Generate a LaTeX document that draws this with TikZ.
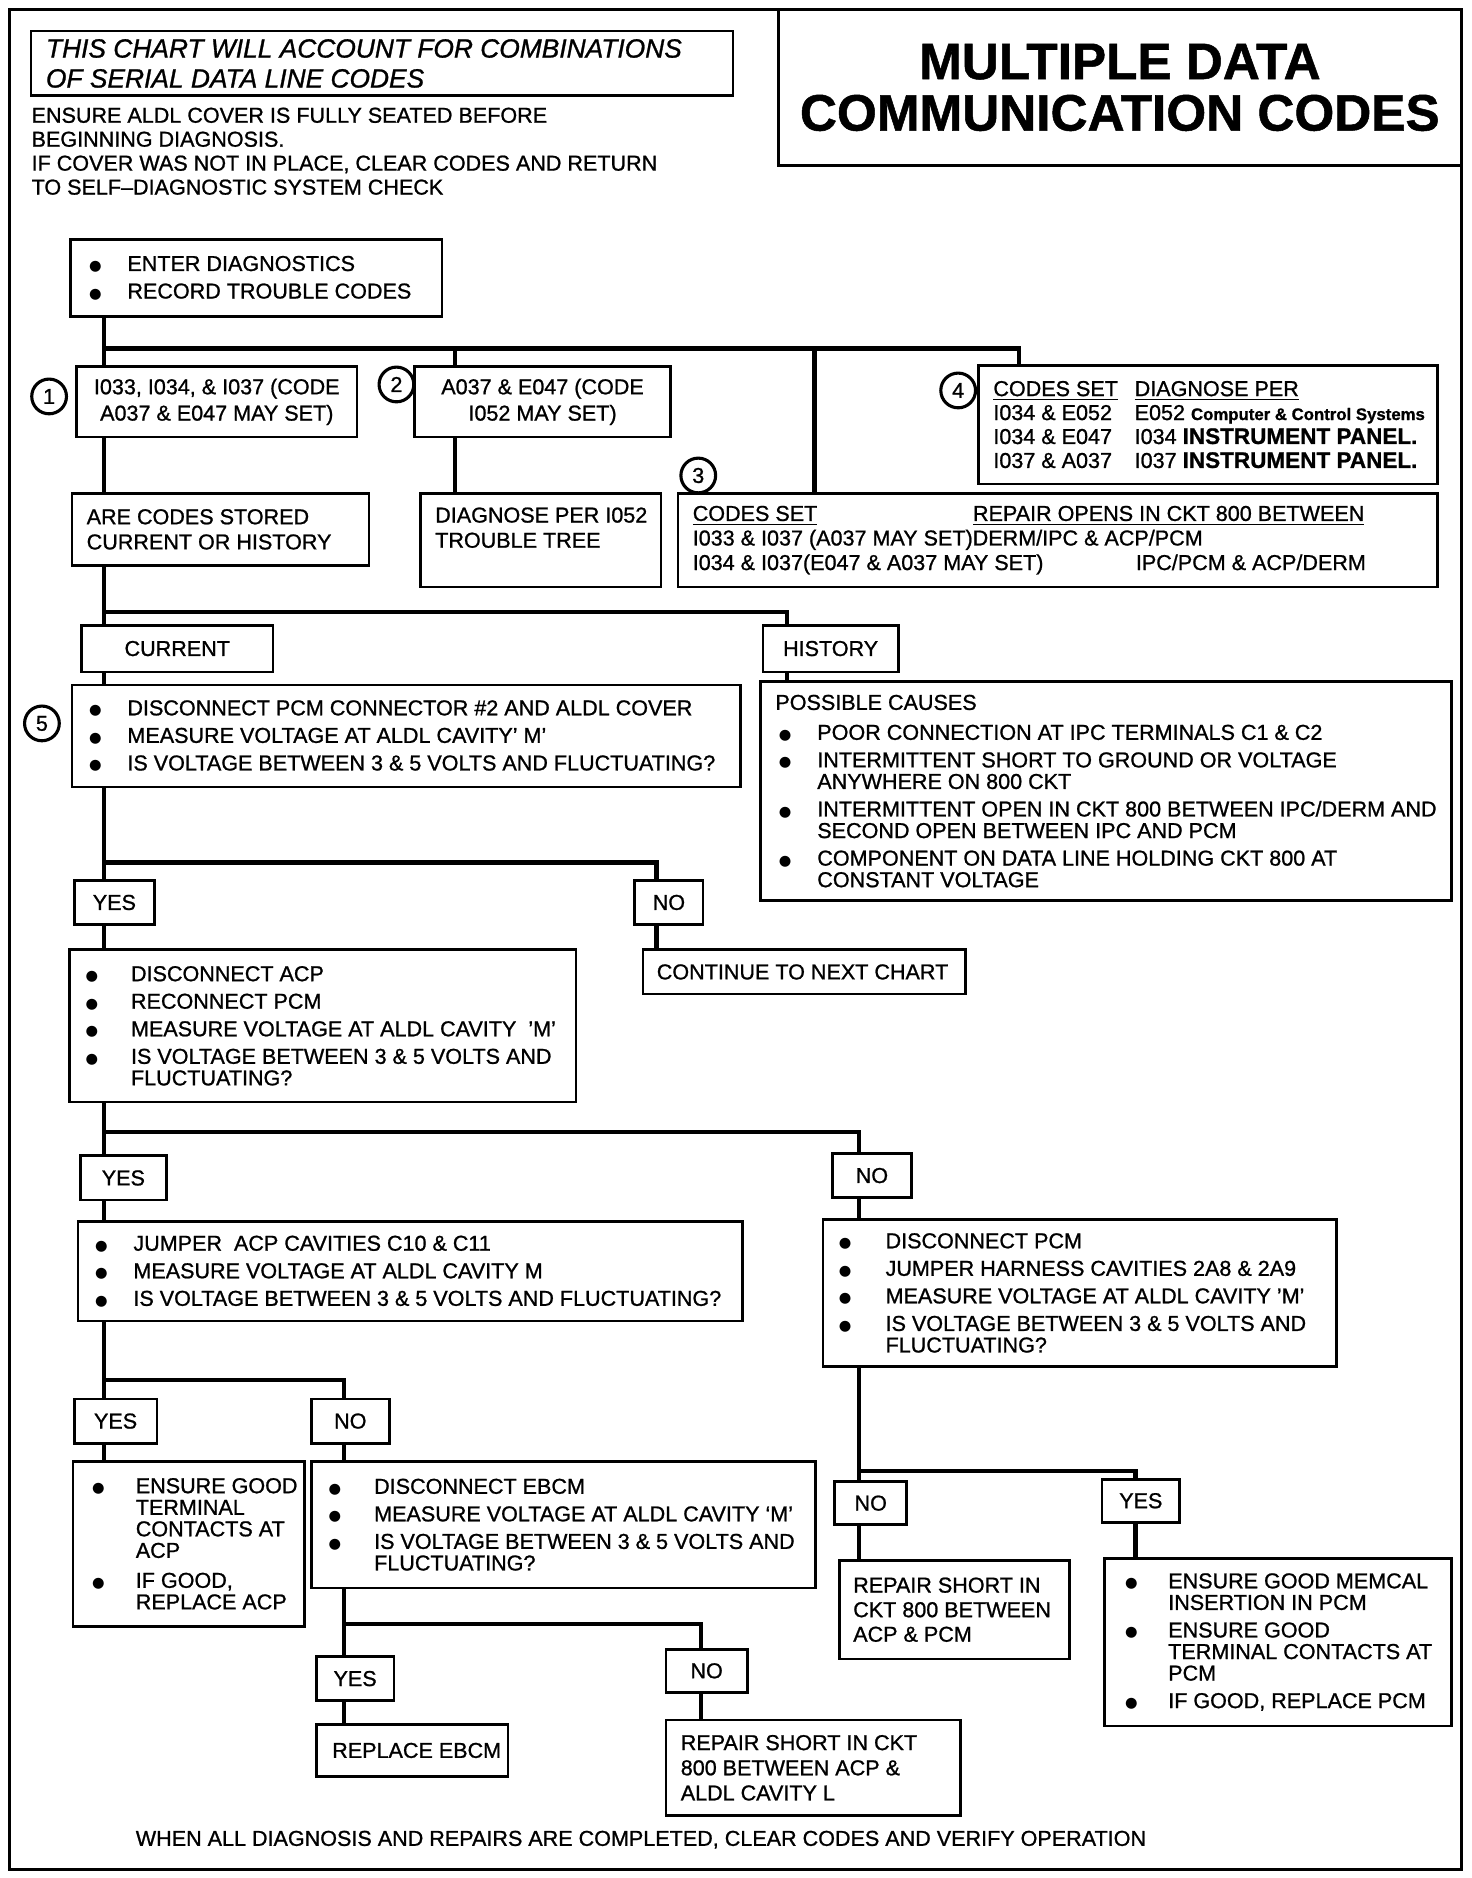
\documentclass[tikz,border=0pt]{standalone}
\usepackage{fontspec}
\setmainfont{Liberation Sans}[FakeBold=1.0]
\newfontfamily\symf{DejaVu Sans}
\newcommand\bl[1][16pt]{\makebox[#1][l]{\raisebox{0.2pt}{\fontsize{6}{6}\selectfont\symf ●}}}
\newcommand\ind[1][16pt]{\hspace*{#1}}
\newcommand\bx[8][]{%
  \pgfmathsetmacro\bxw{(#5-#3)*0.5}%
  \pgfmathsetmacro\bxh{(#6-#4)*0.5}%
  \node[box, minimum width=\bxw pt, minimum height=\bxh pt] (#2) at ({(#3+#5)/2},{(#4+#6)/2}) {};
  \node[txt, anchor=west, #1] (#2t) at ({#3+#7},{(#4+#6)/2}) {#8};}
\newcommand\cb[7][]{%
  \pgfmathsetmacro\bxw{(#5-#3)*0.5}%
  \pgfmathsetmacro\bxh{(#6-#4)*0.5}%
  \node[box, align=center, font=\fontsize{9}{9}\selectfont, minimum width=\bxw pt, minimum height=\bxh pt, #1] (#2) at ({(#3+#5)/2},{(#4+#6)/2}) {#7};}
\begin{document}
\begin{tikzpicture}[x=0.5pt, y=-0.5pt,
  box/.style={draw, line width=1.1pt, inner sep=0pt},
  conn/.style={line width=1.8pt},
  txt/.style={align=left, inner sep=0pt, font=\fontsize{9}{9}\selectfont},
  num/.style={draw, circle, line width=1.3pt, minimum size=14.5pt, inner sep=0pt, font=\fontsize{9}{9}\selectfont}]
\useasboundingbox (0,0) rectangle (1229,1568);
\draw[line width=1.3pt] (8,8) rectangle (1220,1561);
\node[box, minimum width=285pt, minimum height=65pt, align=center, font=\fontsize{21.4}{21.5}\selectfont\bfseries] (title) at (935,73) {MULTIPLE DATA\\COMMUNICATION CODES};
\bx[font=\fontsize{11}{12.5}\selectfont\itshape]{note}{26}{26}{612}{80}{12}{THIS CHART WILL ACCOUNT FOR COMBINATIONS\\OF SERIAL DATA LINE CODES}
\node[txt, anchor=north west, font=\fontsize{9}{10}\selectfont] (hdr) at (26,89.5) {ENSURE ALDL COVER IS FULLY SEATED BEFORE\\BEGINNING DIAGNOSIS.\\IF COVER WAS NOT IN PLACE, CLEAR CODES AND RETURN\\TO SELF--DIAGNOSTIC SYSTEM CHECK};

\bx{enter}{59}{200}{369}{264}{15}{\bl ENTER DIAGNOSTICS\\[2.5pt]\bl RECORD TROUBLE CODES}
\cb{b1}{64}{306}{298}{365}{I033, I034, \& I037 (CODE\\[2pt]A037 \& E047 MAY SET)}
\cb{b2}{346}{306}{560}{365}{A037 \& E047 (CODE\\[2pt]I052 MAY SET)}
\bx[font=\fontsize{9}{10}\selectfont]{b4}{817}{305}{1200}{404}{12}{\makebox[59pt][l]{\underline{CODES SET}}\underline{DIAGNOSE PER}\\\makebox[59pt][l]{I034 \& E052}E052 {\fontsize{7}{7}\selectfont\bfseries Computer \& Control Systems}\\\makebox[59pt][l]{I034 \& E047}I034 {\fontsize{9.4}{9.4}\selectfont\bfseries INSTRUMENT PANEL.}\\\makebox[59pt][l]{I037 \& A037}I037 {\fontsize{9.4}{9.4}\selectfont\bfseries INSTRUMENT PANEL.}}
\bx[font=\fontsize{9}{10.25}\selectfont]{b3}{566}{412}{1200}{490}{12}{\makebox[117pt][l]{\underline{CODES SET}}\underline{REPAIR OPENS IN CKT 800 BETWEEN}\\I033 \& I037 (A037 MAY SET)DERM/IPC \& ACP/PCM\\\makebox[185pt][l]{I034 \& I037(E047 \& A037 MAY SET)}IPC/PCM \& ACP/DERM}
\bx[font=\fontsize{9}{10.5}\selectfont]{are}{60}{412}{308}{472}{12}{ARE CODES STORED\\CURRENT OR HISTORY}
\bx[font=\fontsize{9}{10.5}\selectfont]{diag}{351}{412}{552}{490}{12}{DIAGNOSE PER I052\\TROUBLE TREE\\\mbox{}}
\node[num] (c1) at (41,331) {1};
\node[num] (c2) at (331,321) {2};
\node[num] (c3) at (583,397) {3};
\node[num] (c4) at (800,326) {4};
\node[num] (c5) at (35,604) {5};

\cb{cur}{68}{522}{228}{561}{CURRENT}
\cb{hist}{637}{522}{750}{561}{HISTORY}
\bx{q5}{60}{572}{618}{657}{14}{\bl DISCONNECT PCM CONNECTOR \#2 AND ALDL COVER\\[2.5pt]\bl MEASURE VOLTAGE AT ALDL CAVITY' M'\\[2.5pt]\bl IS VOLTAGE BETWEEN 3 \& 5 VOLTS AND FLUCTUATING?}
\bx{poss}{635}{569}{1212}{752}{12}{POSSIBLE CAUSES\\[3.5pt]\hspace*{1.5pt}\bl POOR CONNECTION AT IPC TERMINALS C1 \& C2\\[2.5pt]\hspace*{1.5pt}\bl INTERMITTENT SHORT TO GROUND OR VOLTAGE\\\hspace*{1.5pt}\ind ANYWHERE ON 800 CKT\\[2.5pt]\hspace*{1.5pt}\bl INTERMITTENT OPEN IN CKT 800 BETWEEN IPC/DERM AND\\\hspace*{1.5pt}\ind SECOND OPEN BETWEEN IPC AND PCM\\[2.5pt]\hspace*{1.5pt}\bl COMPONENT ON DATA LINE HOLDING CKT 800 AT\\\hspace*{1.5pt}\ind CONSTANT VOLTAGE}

\cb{yes1}{62}{735}{129}{772}{YES}
\cb{no1}{530}{735}{587}{772}{NO}
\bx{cont}{537}{793}{806}{830}{11}{CONTINUE TO NEXT CHART}
\bx{dacp}{58}{793}{481}{920}{13}{\bl[16.5pt] DISCONNECT ACP\\[2.5pt]\bl[16.5pt] RECONNECT PCM\\[2.5pt]\bl[16.5pt] MEASURE VOLTAGE AT ALDL CAVITY\ \ 'M'\\[2.5pt]\bl[16.5pt] IS VOLTAGE BETWEEN 3 \& 5 VOLTS AND\\\ind[16.5pt] FLUCTUATING?}

\cb{yes2}{67}{965}{139}{1002}{YES}
\cb{no2}{695}{963}{761}{1000}{NO}
\bx{jump}{65}{1020}{620}{1103}{14}{\bl JUMPER\ \ ACP CAVITIES C10 \& C11\\[2.5pt]\bl MEASURE VOLTAGE AT ALDL CAVITY M\\[2.5pt]\bl IS VOLTAGE BETWEEN 3 \& 5 VOLTS AND FLUCTUATING?}
\bx{dpcm}{687}{1018}{1116}{1141}{13}{\bl[17pt] DISCONNECT PCM\\[2.5pt]\bl[17pt] JUMPER HARNESS CAVITIES 2A8 \& 2A9\\[2.5pt]\bl[17pt] MEASURE VOLTAGE AT ALDL CAVITY 'M'\\[2.5pt]\bl[17pt] IS VOLTAGE BETWEEN 3 \& 5 VOLTS AND\\\ind[17pt] FLUCTUATING?}

\cb{yes3}{62}{1168}{131}{1205}{YES}
\cb{no3}{260}{1168}{325}{1205}{NO}
\bx{egt}{61}{1220}{254}{1358}{15.5}{\bl[15.75pt] ENSURE GOOD\\\ind[15.75pt] TERMINAL\\\ind[15.75pt] CONTACTS AT\\\ind[15.75pt] ACP\\[3.5pt]\bl[15.75pt] IF GOOD,\\\ind[15.75pt] REPLACE ACP}
\bx{ebcm}{260}{1220}{681}{1326}{14}{\bl[16.5pt] DISCONNECT EBCM\\[2.5pt]\bl[16.5pt] MEASURE VOLTAGE AT ALDL CAVITY `M'\\[2.5pt]\bl[16.5pt] IS VOLTAGE BETWEEN 3 \& 5 VOLTS AND\\\ind[16.5pt] FLUCTUATING?}

\cb{yes4}{264}{1383}{329}{1420}{YES}
\cb{no4}{556}{1377}{624}{1413}{NO}
\bx{repl}{264}{1440}{424}{1483}{13}{REPLACE EBCM}
\bx[font=\fontsize{9}{10.5}\selectfont]{rsc}{556}{1436}{802}{1516}{12}{REPAIR SHORT IN CKT\\800 BETWEEN ACP \&\\ALDL CAVITY L}

\cb{no5}{697}{1237}{757}{1273}{NO}
\cb{yes5}{920}{1235}{985}{1271}{YES}
\bx[font=\fontsize{9}{10.25}\selectfont]{rs}{701}{1303}{893}{1385}{11}{REPAIR SHORT IN\\CKT 800 BETWEEN\\ACP \& PCM}
\bx{mem}{922}{1301}{1212}{1441}{17}{\bl[15.5pt] ENSURE GOOD MEMCAL\\\ind[15.5pt] INSERTION IN PCM\\[2.5pt]\bl[15.5pt] ENSURE GOOD\\\ind[15.5pt] TERMINAL CONTACTS AT\\\ind[15.5pt] PCM\\[2.5pt]\bl[15.5pt] IF GOOD, REPLACE PCM}

\node[txt, anchor=west] (foot) at (113,1536) {WHEN ALL DIAGNOSIS AND REPAIRS ARE COMPLETED, CLEAR CODES AND VERIFY OPERATION};

% connectors
\coordinate (j1) at (87,291); \coordinate (j2) at (380,291); \coordinate (j3) at (680,291); \coordinate (j4) at (851,291);
\draw[conn] (enter.south -| j1) -- (b1.north -| j1);
\draw[conn] (j1) -- (j4) -- (b4.north -| j4);
\draw[conn] (j2) -- (b2.north -| j2);
\draw[conn] (j3) -- (b3.north -| j3);
\draw[conn] (b1.south -| j1) -- (are.north -| j1);
\draw[conn] (b2.south -| j2) -- (diag.north -| j2);

\coordinate (k1) at (87,511); \coordinate (k2) at (657,511);
\draw[conn] (are.south -| k1) -- (cur.north -| k1);
\draw[conn] (k1) -- (k2) -- (hist.north -| k2);
\draw[conn] (cur.south -| k1) -- (q5.north -| k1);
\draw[conn] (hist.south -| k2) -- (poss.north -| k2);

\coordinate (m1) at (87,720); \coordinate (m2) at (548,720);
\draw[conn] (q5.south -| m1) -- (yes1.north -| m1);
\draw[conn] (m1) -- (m2) -- (no1.north -| m2);
\draw[conn] (no1.south -| m2) -- (cont.north -| m2);
\draw[conn] (yes1.south -| m1) -- (dacp.north -| m1);

\coordinate (n1) at (87,945); \coordinate (n2) at (717,945);
\draw[conn] (dacp.south -| n1) -- (yes2.north -| n1);
\draw[conn] (n1) -- (n2) -- (no2.north -| n2);
\draw[conn] (yes2.south -| n1) -- (jump.north -| n1);
\draw[conn] (no2.south -| n2) -- (dpcm.north -| n2);

\coordinate (p1) at (87,1152); \coordinate (p2) at (287,1152);
\draw[conn] (jump.south -| p1) -- (yes3.north -| p1);
\draw[conn] (p1) -- (p2) -- (no3.north -| p2);
\draw[conn] (yes3.south -| p1) -- (egt.north -| p1);
\draw[conn] (no3.south -| p2) -- (ebcm.north -| p2);

\coordinate (r1) at (287,1356); \coordinate (r2) at (585,1356);
\draw[conn] (ebcm.south -| r1) -- (yes4.north -| r1);
\draw[conn] (r1) -- (r2) -- (no4.north -| r2);
\draw[conn] (yes4.south -| r1) -- (repl.north -| r1);
\draw[conn] (no4.south -| r2) -- (rsc.north -| r2);

\coordinate (s1) at (717,1228); \coordinate (s2) at (948,1228);
\draw[conn] (dpcm.south -| s1) -- (no5.north -| s1);
\draw[conn] (s1) -- (s2) -- (yes5.north -| s2);
\draw[conn] (no5.south -| s1) -- (rs.north -| s1);
\draw[conn] (yes5.south -| s2) -- (mem.north -| s2);
\end{tikzpicture}
\end{document}
